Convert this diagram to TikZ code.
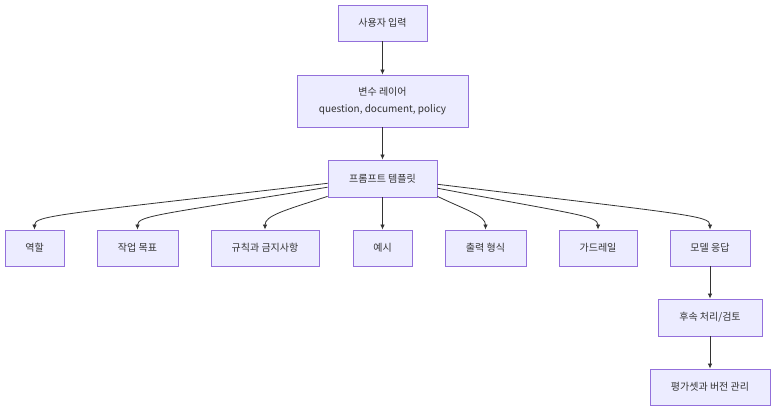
\documentclass[tikz,border=0pt]{standalone}
\usepackage{fontspec}
\setmainfont{Noto Sans CJK KR}
\usepackage{xcolor}
\usepackage{tikz}
\usetikzlibrary{arrows.meta}
\definecolor{boxfill}{HTML}{ECECFF}
\definecolor{boxline}{HTML}{9370DB}
\definecolor{ink}{HTML}{333333}
\tikzset{
  stageBox/.style={draw=boxline, fill=boxfill, line width=0.9pt, inner sep=0pt, align=center,
    text=ink, font=\fontsize{10}{16.5}\selectfont, minimum height=36pt},
  flowEdge/.style={draw=ink, line width=0.8pt, -{Latex[length=5pt,width=4.5pt]}},
}

\begin{document}
\begin{tikzpicture}[x=1pt,y=-1pt]
  \useasboundingbox[fill=white] (0,0) rectangle (784,416);

  % top chain
  \node[stageBox, minimum width=89pt]  (userIn)   at (382.5,23)    {사용자 입력};
  \node[stageBox, minimum width=171pt, minimum height=52pt] (varLayer) at (382.5,101)
    {변수 레이어\\question, document, policy};
  \node[stageBox, minimum width=109pt, minimum height=37pt] (tmpl) at (382.5,178.5) {프롬프트 템플릿};

  % template parts
  \node[stageBox, minimum width=59pt]  (role)    at (34.5,248)  {역할};
  \node[stageBox, minimum width=81pt]  (goal)    at (137.5,248) {작업 목표};
  \node[stageBox, minimum width=108pt] (rules)   at (265,248)   {규칙과 금지사항};
  \node[stageBox, minimum width=59pt]  (example) at (382.5,248) {예시};
  \node[stageBox, minimum width=81pt]  (outFmt)  at (485.5,248) {출력 형식};
  \node[stageBox, minimum width=78pt]  (guard)   at (598,248)   {가드레일};
  \node[stageBox, minimum width=80pt]  (resp)    at (710,248)   {모델 응답};

  % after the response
  \node[stageBox, minimum width=104pt, minimum height=37pt] (post) at (710,317.5) {후속 처리/검토};
  \node[stageBox, minimum width=120pt] (evalSet) at (710,387) {평가셋과 버전 관리};

  \draw[flowEdge] (userIn) -- (varLayer);
  \draw[flowEdge] (varLayer) -- (tmpl);

  \draw[flowEdge] (tmpl.185) .. controls +(-268,31) and +(0,-14) .. (role.north);
  \draw[flowEdge] (tmpl.189) .. controls +(-165,27) and +(0,-14) .. (goal.north);
  \draw[flowEdge] (tmpl.198) .. controls +(-43,14) and +(0,-14) .. (rules.north);
  \draw[flowEdge] (tmpl) -- (example);
  \draw[flowEdge] (tmpl.-18) .. controls +(29,14) and +(0,-14) .. (outFmt.north);
  \draw[flowEdge] (tmpl.-10) .. controls +(136,26) and +(0,-14) .. (guard.north);
  \draw[flowEdge] (tmpl.-6) .. controls +(248,30) and +(0,-14) .. (resp.north);

  \draw[flowEdge] (resp) -- (post);
  \draw[flowEdge] (post) -- (evalSet);
\end{tikzpicture}
\end{document}
